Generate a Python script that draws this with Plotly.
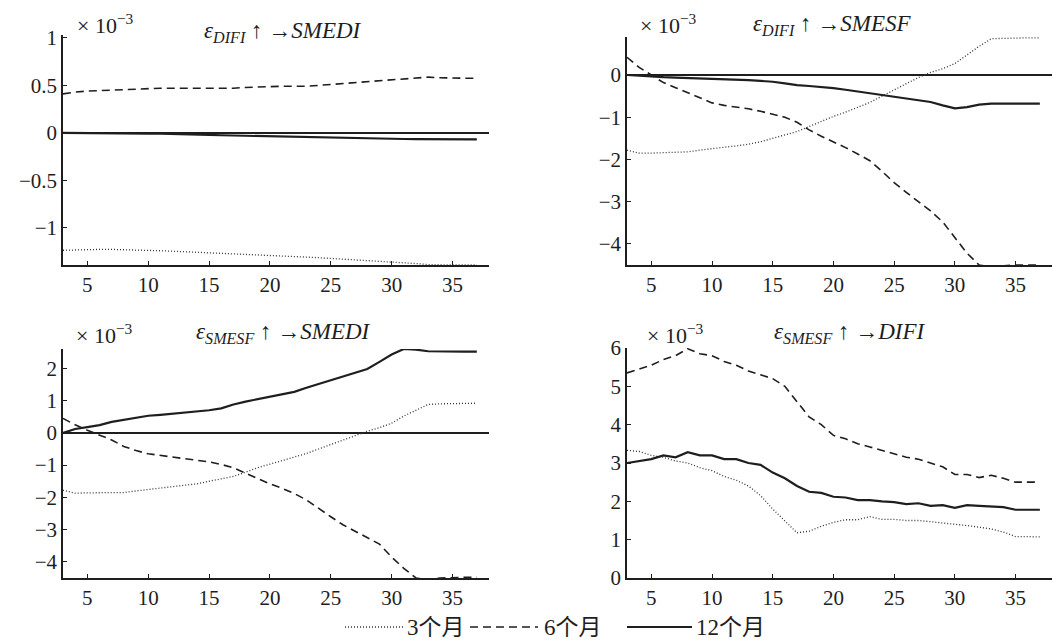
import plotly.graph_objects as go

# Forecast horizon (periods)
periods = list(range(3, 38))

# Impulse responses, in units of 1e-3, for three window lengths
# Panel A: eps_DIFI shock -> SMEDI
difi_smedi_3m = [-1.235, -1.23, -1.228, -1.226, -1.226, -1.228, -1.232, -1.236, -1.24, -1.245,
                 -1.25, -1.255, -1.26, -1.265, -1.27, -1.275, -1.28, -1.285, -1.293, -1.3,
                 -1.307, -1.313, -1.32, -1.327, -1.333, -1.34, -1.347, -1.355, -1.365, -1.375,
                 -1.385, -1.39, -1.39, -1.39, -1.39]
difi_smedi_6m = [0.41, 0.43, 0.44, 0.445, 0.45, 0.455, 0.465, 0.47, 0.47, 0.47,
                 0.47, 0.47, 0.47, 0.47, 0.47, 0.478, 0.485, 0.487, 0.49, 0.49,
                 0.49, 0.5, 0.51, 0.52, 0.53, 0.54, 0.548, 0.555, 0.565, 0.578,
                 0.587, 0.58, 0.575, 0.575, 0.575]
difi_smedi_12m = [0.0, -0.002, -0.003, -0.004, -0.004, -0.005, -0.006, -0.007, -0.008, -0.009,
                  -0.012, -0.016, -0.02, -0.025, -0.028, -0.03, -0.033, -0.036, -0.04, -0.043,
                  -0.046, -0.05, -0.052, -0.054, -0.056, -0.058, -0.06, -0.063, -0.064, -0.065,
                  -0.065, -0.066, -0.067, -0.067, -0.068]

# Panel B: eps_DIFI shock -> SMESF
difi_smesf_3m = [-1.78, -1.85, -1.85, -1.84, -1.84, -1.82, -1.78, -1.74, -1.71, -1.68,
                 -1.64, -1.58, -1.5, -1.42, -1.34, -1.22, -1.1, -0.98, -0.88, -0.77,
                 -0.65, -0.5, -0.35, -0.2, -0.06, 0.06, 0.15, 0.27, 0.48, 0.68,
                 0.86, 0.87, 0.87, 0.88, 0.88]
difi_smesf_6m = [0.42, 0.18, 0.0, -0.18, -0.3, -0.42, -0.55, -0.66, -0.72, -0.76,
                 -0.8, -0.86, -0.93, -1.0, -1.12, -1.3, -1.45, -1.58, -1.72, -1.87,
                 -2.03, -2.28, -2.55, -2.78, -3.0, -3.22, -3.48, -3.85, -4.22, -4.5,
                 -4.55, -4.52, -4.5, -4.5, -4.5]
difi_smesf_12m = [0.0, -0.02, -0.04, -0.05, -0.06, -0.07, -0.07, -0.08, -0.09, -0.1,
                  -0.12, -0.14, -0.16, -0.2, -0.24, -0.26, -0.28, -0.31, -0.35, -0.39,
                  -0.44, -0.48, -0.51, -0.55, -0.59, -0.64, -0.72, -0.79, -0.76, -0.7,
                  -0.68, -0.68, -0.68, -0.68, -0.68]

# Panel C: eps_SMESF shock -> SMEDI
smesf_smedi_3m = [-1.78, -1.87, -1.86, -1.85, -1.85, -1.85, -1.8, -1.76, -1.72, -1.68,
                  -1.64, -1.58, -1.5, -1.43, -1.35, -1.22, -1.08, -0.97, -0.86, -0.76,
                  -0.64, -0.5, -0.36, -0.22, -0.08, 0.05, 0.16, 0.3, 0.52, 0.7,
                  0.88, 0.9, 0.9, 0.91, 0.92]
smesf_smedi_6m = [0.45, 0.25, 0.08, -0.08, -0.22, -0.42, -0.55, -0.65, -0.7, -0.75,
                  -0.78, -0.83, -0.9, -0.98, -1.08, -1.25, -1.42, -1.58, -1.72, -1.88,
                  -2.08, -2.35, -2.6, -2.85, -3.05, -3.25, -3.45, -3.85, -4.2, -4.5,
                  -4.55, -4.5, -4.48, -4.48, -4.48]
smesf_smedi_12m = [0.0, 0.12, 0.18, 0.24, 0.34, 0.41, 0.48, 0.53, 0.56, 0.59,
                   0.62, 0.66, 0.7, 0.76, 0.88, 0.97, 1.05, 1.12, 1.2, 1.27,
                   1.4, 1.52, 1.63, 1.74, 1.86, 1.98, 2.2, 2.43, 2.6, 2.58,
                   2.53, 2.52, 2.52, 2.52, 2.52]

# Panel D: eps_SMESF shock -> DIFI
smesf_difi_3m = [3.33, 3.3, 3.2, 3.15, 3.05, 3.0, 2.88, 2.8, 2.65, 2.55,
                 2.4, 2.15, 1.8, 1.5, 1.18, 1.22, 1.35, 1.45, 1.52, 1.52,
                 1.6, 1.53, 1.53, 1.5, 1.5, 1.47, 1.43, 1.4, 1.37, 1.32,
                 1.28, 1.2, 1.08, 1.08, 1.07]
smesf_difi_6m = [5.35, 5.45, 5.55, 5.7, 5.8, 5.98, 5.85, 5.8, 5.65, 5.55,
                 5.4, 5.3, 5.2, 5.0, 4.6, 4.2, 4.0, 3.72, 3.63, 3.5,
                 3.42, 3.33, 3.25, 3.15, 3.1, 3.0, 2.9, 2.7, 2.7, 2.62,
                 2.68, 2.6, 2.5, 2.5, 2.5]
smesf_difi_12m = [3.0, 3.05, 3.1, 3.2, 3.15, 3.28, 3.2, 3.2, 3.1, 3.1,
                  3.0, 2.95, 2.75, 2.6, 2.4, 2.25, 2.22, 2.12, 2.1, 2.03,
                  2.03, 2.0, 1.98, 1.93, 1.95, 1.88, 1.9, 1.83, 1.9, 1.88,
                  1.87, 1.85, 1.78, 1.78, 1.78]

series_names = ["3个月", "6个月", "12个月"]
panel_titles = [
    "<i>ε<sub>DIFI</sub></i> ↑ →<i>SMEDI</i>",
    "<i>ε<sub>DIFI</sub></i> ↑ →<i>SMESF</i>",
    "<i>ε<sub>SMESF</sub></i> ↑ →<i>SMEDI</i>",
    "<i>ε<sub>SMESF</sub></i> ↑ →<i>DIFI</i>",
]

panels = [
    (difi_smedi_3m, difi_smedi_6m, difi_smedi_12m),
    (difi_smesf_3m, difi_smesf_6m, difi_smesf_12m),
    (smesf_smedi_3m, smesf_smedi_6m, smesf_smedi_12m),
    (smesf_difi_3m, smesf_difi_6m, smesf_difi_12m),
]

INK = "#1e1e1e"
SERIF = "Liberation Serif, Noto Sans CJK SC"
W, H = 1058, 641

line_styles = [
    dict(color="#333333", width=1.3, dash="1px,2px"),
    dict(color=INK, width=1.6, dash="8px,5px"),
    dict(color=INK, width=2.2),
]

# axis boxes in pixels: (left, right, top, bottom)
boxes = [(63, 489, 35, 265), (627, 1052, 37, 265),
         (63, 489, 349, 578), (627, 1052, 348, 578)]
y_ranges = [[-1.39, 1.03], [-4.5, 0.9], [-4.5, 2.6], [0, 6.0]]
y_dticks = [0.5, 1, 1, 1]

fig = go.Figure()
layout = dict(
    template="none",
    width=W, height=H,
    margin=dict(l=0, r=0, t=0, b=0),
    paper_bgcolor="white", plot_bgcolor="white",
    font=dict(family=SERIF, size=21, color=INK),
    showlegend=False,
)

for i, (vals, box, yr, dt) in enumerate(zip(panels, boxes, y_ranges, y_dticks)):
    k = "" if i == 0 else str(i + 1)
    xa, ya = "x" + k, "y" + k
    left, right, top, bottom = box
    for j, (name, v) in enumerate(zip(series_names, vals)):
        fig.add_trace(go.Scatter(
            x=periods, y=v, mode="lines", name=name, line=line_styles[j],
            xaxis=xa, yaxis=ya,
        ))
    layout["xaxis" + k] = dict(
        domain=[left / W, right / W], anchor=ya, range=[3, 38],
        tick0=5, dtick=5, ticks="inside", ticklen=4, tickcolor=INK, tickwidth=1.2,
        showline=True, linecolor=INK, linewidth=1.6, showgrid=False, zeroline=False,
        tickfont=dict(family=SERIF, size=21, color=INK),
    )
    layout["yaxis" + k] = dict(
        domain=[1 - bottom / H, 1 - top / H], anchor=xa, range=yr,
        tick0=0, dtick=dt, ticks="inside", ticklen=4, tickcolor=INK, tickwidth=1.2,
        showline=True, linecolor=INK, linewidth=1.6, showgrid=False,
        zeroline=(i != 3), zerolinecolor=INK, zerolinewidth=1.8,
        tickfont=dict(family=SERIF, size=21, color=INK),
    )

# heading / scale label positions in pixels
title_pos = [(283, 32), (832, 25), (283, 333), (850, 333)]
scale_pos = [(105, 24), (668, 24), (104, 334), (675, 334)]
annotations = []
for title, (tx, ty), (sx, sy) in zip(panel_titles, title_pos, scale_pos):
    annotations.append(dict(text=title, xref="paper", yref="paper", x=tx / W, y=1 - ty / H,
                            xanchor="center", yanchor="middle", showarrow=False,
                            font=dict(family=SERIF, size=23, color=INK)))
    annotations.append(dict(text="× 10<sup>−3</sup>", xref="paper", yref="paper",
                            x=sx / W, y=1 - sy / H, xanchor="center", yanchor="middle",
                            showarrow=False, font=dict(family=SERIF, size=22, color=INK)))

# key along the bottom: sample stroke followed by its label
key_y = 627
key_items = [(345, 404, 405), (470, 538, 542), (627, 692, 694)]
shapes = []
for (x0, x1, tx), name, style in zip(key_items, series_names, line_styles):
    shapes.append(dict(type="line", xref="paper", yref="paper",
                       x0=x0 / W, x1=x1 / W, y0=1 - key_y / H, y1=1 - key_y / H,
                       line=style))
    annotations.append(dict(text=name, xref="paper", yref="paper", x=tx / W, y=1 - key_y / H,
                            xanchor="left", yanchor="middle", showarrow=False,
                            font=dict(family=SERIF, size=23, color=INK)))

layout["annotations"] = annotations
layout["shapes"] = shapes

fig.update_layout(**layout)
fig.write_html("out.html")
